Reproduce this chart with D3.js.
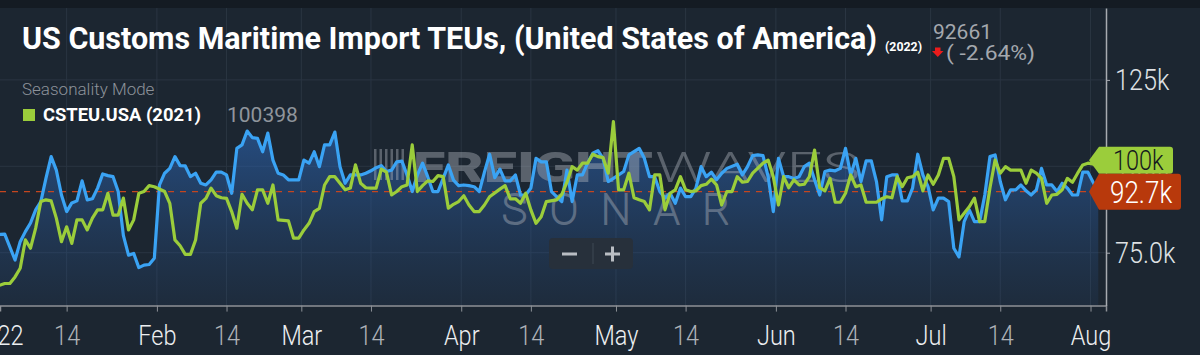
<!DOCTYPE html>
<html>
<head>
<meta charset="utf-8">
<script src="https://cdn.jsdelivr.net/npm/d3@7"></script>
<style>
  body { margin: 0; background: #1c2631; }
  svg { display: block; font-family: Roboto, "Open Sans", sans-serif; }
</style>
</head>
<body>
<div id="chart"></div>
<script>
// 2022 daily imports (days since Jan 1, TEUs)
const days2022 = [0,1,3,4,5,6,7,8,9,10,11,12,13,14,15,16,17,18,19,20,21,22,23,24,25,26,27,28,29,30,
  31,32,33,34,35,36,37,38,39,40,41,42,43,44,45,46,47,48,49,50,51,52,53,54,55,56,57,58,59,60,
  61,62,63,64,65,66,67,68,69,70,71,72,73,74,75,76,77,78,79,80,81,82,83,84,85,86,87,88,89,90,
  91,92,93,94,95,96,97,98,99,100,101,102,103,104,105,106,107,109,110,111,112,113,114,115,116,117,118,119,121,122,
  124,125,126,127,128,129,130,131,132,133,134,135,136,137,138,139,140,141,143,144,145,146,147,148,149,150,
  151,152,153,154,155,156,157,158,159,160,161,162,163,164,165,166,167,168,169,170,171,172,173,174,175,176,177,178,179,180,
  181,182,183,184,185,186,187,188,189,190,191,192,193,194,195,196,197,198,199,200,201,202,203,204,205,206,207,208,209,210,
  211,212,213];
const teu2022 = [80300,80400,72900,78200,81100,83600,87400,89800,96600,102800,98900,91700,86900,89400,90000,95800,90300,90600,93700,97800,97300,97000,92700,80000,74300,74800,70700,71400,71600,73400,
  94600,98000,99400,102800,100200,100100,97000,98000,95100,94600,96100,98300,98300,97500,92200,105200,106200,110200,108300,108100,104200,109600,101800,98000,97500,96100,96100,96100,101800,100900,
  104200,99900,106200,106200,109900,99900,95100,97500,97500,97500,98000,98700,99600,100200,98500,98900,101300,101500,97500,92700,97500,100900,97000,92700,92700,96500,100400,96000,94400,94600,
  94400,94100,92700,98300,103500,96700,99200,95800,95800,97500,91700,91700,93700,102300,101300,101300,92700,89800,98900,89800,97500,97500,100900,103800,104500,102300,95600,96500,98500,103300,
  105200,102300,97000,97000,92700,90800,92200,89300,93700,91200,91200,93700,99900,97000,98300,96100,98000,99400,100600,97500,99900,103100,103300,103100,97000,86900,
  102300,97000,97000,96500,97000,99900,100900,96100,91700,98500,98900,98700,99400,105200,97500,102300,95600,101600,101600,95600,84500,97000,97500,97500,90000,90000,93700,103500,97500,94100,
  87400,90800,90800,89800,76300,73800,84000,87400,84000,84000,91700,102800,103300,95600,90300,93200,93200,94600,92900,91700,93200,99400,94600,94600,92700,95100,93700,91700,91700,98300,
  98300,95400,92661];

// 2021 values laid over the same calendar days (seasonality mode)
const days2021 = [0,1,2,3,4,5,6,7,8,9,10,11,12,13,14,15,16,17,18,19,20,21,22,23,24,25,26,27,28,29,
  30,32,33,34,35,36,37,38,39,40,41,42,43,44,45,46,47,48,49,50,51,52,53,54,56,57,58,59,60,61,
  62,63,64,65,67,68,69,70,71,72,73,74,75,76,77,78,79,80,81,82,83,84,85,86,87,88,89,90,91,92,
  93,94,95,97,98,99,100,101,102,103,104,105,106,108,109,110,111,112,113,114,115,116,117,118,119,120,121,122,123,124,
  125,126,127,128,129,130,131,132,133,134,135,136,137,138,139,140,141,142,143,144,145,146,148,149,150,151,152,153,154,155,
  156,157,158,159,160,161,162,163,164,165,166,167,168,170,171,172,173,174,175,176,177,178,179,180,181,182,183,184,185,186,
  187,188,189,190,191,192,193,194,195,196,197,198,199,200,201,202,203,204,205,206,207,208,209,210,211,213];
const teu2021 = [65600,66100,66100,68000,70500,78700,76300,82100,89800,90300,90000,85000,78200,82500,77700,84500,84500,81600,85000,87400,87400,92200,85900,85900,90800,81600,84500,92200,92700,94400,
  94100,92700,89300,78700,77000,74500,74500,78700,89300,90700,93700,91500,90900,90700,86900,82100,91900,89300,87400,93200,93200,89300,94600,84500,84200,79200,79200,81600,83500,86900,
  87800,94600,97000,97000,93200,93700,100400,95100,93800,93700,93700,99200,98300,91700,92700,94100,94600,106200,92700,94400,95800,95600,97300,97000,87900,89000,89800,91500,88800,86900,
  86900,88800,91200,93400,94400,90600,90600,89300,92200,87400,83500,85400,89800,90300,91900,95400,99900,98900,100900,100900,103500,102800,102500,98000,112900,93200,93200,98000,90900,90300,
  89800,87400,97500,97500,87400,92200,93200,97000,93200,92700,92900,94400,94800,96300,94600,88800,92700,92700,97000,95400,95600,98000,100900,101800,97000,88800,97000,93800,96100,94600,
  94800,97000,104700,93800,92900,96500,89600,89600,92200,97500,94100,94600,89600,89600,90600,91200,90900,97000,94100,96700,97000,98300,92900,97500,94800,97500,102300,102300,97000,84500,
  86400,88300,90800,84000,84000,93700,101800,98000,99900,98900,98900,98900,95100,98900,98000,96500,89300,91700,91900,93200,96500,95400,98000,100400,100900,100398];

const monthTicks = [0, 31, 59, 90, 120, 151, 181, 212];
const monthLabels = ["2022", "Feb", "Mar", "Apr", "May", "Jun", "Jul", "Aug"];
const midMonths = [0, 1, 2, 3, 4, 5, 6];
const yTicks = [75000, 100000, 125000];
const yTickLabels = ["75.0k", "100k", "125k"];
const lastValue = "92661", lastChange = "( -2.64%)", legendValue = "100398";

const svgWidth = 1200;
const svgHeight = 355;
const margin = { top: 8, left: 0 };
const width = 1106;
const height = 297.6;
const condensed = 0.84;

const svg = d3.select("#chart").append("svg")
  .attr("width", svgWidth)
  .attr("height", svgHeight);

const defs = svg.append("defs");
const grad = defs.append("linearGradient")
  .attr("id", "areaFill").attr("x1", 0).attr("y1", 0).attr("x2", 0).attr("y2", 1);
grad.append("stop").attr("offset", "0%").attr("stop-color", "#2d6bc0").attr("stop-opacity", 0.55);
grad.append("stop").attr("offset", "100%").attr("stop-color", "#2a5590").attr("stop-opacity", 0.12);
defs.append("clipPath").attr("id", "plotClip")
  .append("rect").attr("width", width).attr("height", height);

// background + darker top strip
svg.append("rect").attr("width", svgWidth).attr("height", svgHeight).attr("fill", "#1c2631");
svg.append("rect").attr("width", svgWidth).attr("height", margin.top).attr("fill", "#141b23");

const chartGroup = svg.append("g")
  .attr("transform", `translate(${margin.left}, ${margin.top})`);

const toDate = d => new Date(2022, 0, 1 + d, 12);
const x = d3.scaleTime()
  .domain([new Date(2022, 0, 1, 14), new Date(2022, 7, 4, 0)])
  .range([0, width]);
const y = d3.scaleLinear()
  .domain([59700, 145800])
  .range([height, 0]);

const monthDates = monthTicks.map(d => new Date(2022, 0, 1 + d));
const midDates = midMonths.map(m => new Date(2022, m, 14, 12));
const allTicks = monthDates.concat(midDates).sort((a, b) => a - b);

// grid
chartGroup.append("g").selectAll("line")
  .data(allTicks).enter().append("line")
  .attr("x1", d => x(d)).attr("x2", d => x(d))
  .attr("y1", 0).attr("y2", height)
  .attr("stroke", "#2a3542").attr("stroke-width", 1);
chartGroup.append("g").selectAll("line")
  .data(yTicks).enter().append("line")
  .attr("x1", 0).attr("x2", width)
  .attr("y1", d => y(d)).attr("y2", d => y(d))
  .attr("stroke", "#2a3542").attr("stroke-width", 1);

const plot = chartGroup.append("g").attr("clip-path", "url(#plotClip)");

const data2022 = days2022.map((d, i) => ({ date: toDate(d), value: teu2022[i] }));
const data2021 = days2021.map((d, i) => ({ date: toDate(d), value: teu2021[i] }));

plot.append("path")
  .datum(data2022)
  .attr("fill", "url(#areaFill)")
  .attr("d", d3.area().x(d => x(d.date)).y0(height).y1(d => y(d.value)));

// watermark
const wm = plot.append("g").attr("opacity", 0.42);
wm.append("text")
  .attr("x", 413).attr("y", 174)
  .attr("font-size", 42).attr("font-weight", 900).attr("fill", "#b0b6be")
  .attr("textLength", 240).attr("lengthAdjust", "spacingAndGlyphs")
  .text("FREIGHT");
wm.append("text")
  .attr("x", 655).attr("y", 174)
  .attr("font-size", 42).attr("font-weight", 300).attr("fill", "#b0b6be")
  .attr("textLength", 205).attr("lengthAdjust", "spacingAndGlyphs")
  .text("WAVES");
wm.append("text")
  .attr("x", 502).attr("y", 216)
  .attr("font-size", 42).attr("font-weight", 100).attr("fill", "none")
  .attr("stroke", "#b0b6be").attr("stroke-width", 1.8)
  .attr("textLength", 228).attr("lengthAdjust", "spacing")
  .text("SONAR");
wm.selectAll("rect.bar")
  .data(d3.range(6)).enter().append("rect")
  .attr("x", i => 374 + i * 5.5).attr("y", 141).attr("width", 2.5).attr("height", 31)
  .attr("fill", "#b0b6be");

// current-value reference line
plot.append("line")
  .attr("x1", 0).attr("x2", width)
  .attr("y1", y(+lastValue)).attr("y2", y(+lastValue))
  .attr("stroke", "#c4461f").attr("stroke-width", 1.2)
  .attr("stroke-dasharray", "6,6");

const line = d3.line().x(d => x(d.date)).y(d => y(d.value));
plot.append("path")
  .datum(data2022)
  .attr("fill", "none").attr("stroke", "#3aa3f4").attr("stroke-width", 3.2)
  .attr("stroke-linejoin", "round")
  .attr("d", line);
plot.append("path")
  .datum(data2021)
  .attr("fill", "none").attr("stroke", "#9bcd3b").attr("stroke-width", 3.2)
  .attr("stroke-linejoin", "round")
  .attr("d", line);

// x axis
const bottomAxis = d3.axisBottom(x)
  .tickValues(allTicks)
  .tickSizeOuter(0)
  .tickSize(6)
  .tickFormat(d => {
    const i = monthDates.findIndex(m => +m === +d);
    return i >= 0 ? monthLabels[i] : "14";
  });
const xAxis = chartGroup.append("g")
  .attr("transform", `translate(0, ${height})`)
  .call(bottomAxis);
xAxis.select(".domain").attr("stroke", "#8d9197").attr("stroke-width", 1.5);
xAxis.selectAll(".tick line").attr("stroke", "#8d9197");
xAxis.selectAll(".tick text")
  .attr("y", 19.5)
  .attr("font-size", 28).attr("font-weight", 300)
  .attr("font-family", "Roboto, sans-serif")
  .attr("transform", `scale(${condensed},1)`)
  .attr("fill", d => monthDates.some(m => +m === +d) ? "#eceef0" : "#aeb2b8");

// y axis
const rightAxis = d3.axisRight(y)
  .tickValues(yTicks)
  .tickSize(4)
  .tickSizeOuter(0)
  .tickFormat((d, i) => yTickLabels[i]);
const yAxis = chartGroup.append("g")
  .attr("transform", `translate(${width}, 0)`)
  .call(rightAxis);
yAxis.select(".domain").attr("stroke", "#a7abb1").attr("stroke-width", 1.5);
yAxis.selectAll(".tick line").attr("stroke", "#a7abb1");
yAxis.selectAll(".tick text")
  .attr("x", 9 / condensed)
  .attr("font-size", 30).attr("font-weight", 300)
  .attr("font-family", "Roboto, sans-serif")
  .attr("transform", `scale(${condensed},1)`)
  .attr("fill", "#dfe1e4");

// last value flags
const redCy = y(+lastValue);
const redH = 36, greenH = 27;
const greenCy = Math.min(y(+legendValue), redCy - redH / 2 - greenH / 2);
const flag = (cy, h, right) => {
  const t = cy - h / 2, b = cy + h / 2;
  return `M${width - 17},${cy} L${width - 7},${t} L${right - 3},${t} Q${right},${t} ${right},${t + 3}`
    + ` L${right},${b - 3} Q${right},${b} ${right - 3},${b} L${width - 7},${b} Z`;
};
chartGroup.append("path").attr("d", flag(greenCy, greenH, width + 67)).attr("fill", "#9bcd3b");
chartGroup.append("text")
  .attr("x", (width + 7) / condensed).attr("y", greenCy + 10)
  .attr("transform", `scale(${condensed},1)`)
  .attr("font-size", 28).attr("font-weight", 300).attr("fill", "#15191e")
  .text("100k");
chartGroup.append("path").attr("d", flag(redCy, redH, width + 75)).attr("fill", "#b8390c");
chartGroup.append("text")
  .attr("x", (width + 4) / condensed).attr("y", redCy + 11)
  .attr("transform", `scale(${condensed},1)`)
  .attr("font-size", 31).attr("font-weight", 300).attr("fill", "#ffffff")
  .text(d3.format(".3s")(+lastValue));

// zoom buttons
const zoomBox = svg.append("g").attr("transform", "translate(549, 238)");
zoomBox.append("rect").attr("width", 84).attr("height", 31).attr("rx", 4).attr("fill", "#27303b");
zoomBox.append("line").attr("x1", 44).attr("x2", 44).attr("y1", 5).attr("y2", 26)
  .attr("stroke", "#3e4854");
zoomBox.append("rect").attr("x", 13).attr("y", 14.5).attr("width", 15).attr("height", 3).attr("fill", "#b9bdc3");
zoomBox.append("rect").attr("x", 56).attr("y", 14.5).attr("width", 15).attr("height", 3).attr("fill", "#b9bdc3");
zoomBox.append("rect").attr("x", 62).attr("y", 8.5).attr("width", 3).attr("height", 15).attr("fill", "#b9bdc3");

// title block
svg.append("text")
  .attr("x", 22).attr("y", 48.5)
  .attr("font-size", 32).attr("font-weight", 700).attr("fill", "#ffffff")
  .attr("textLength", 855).attr("lengthAdjust", "spacingAndGlyphs")
  .text("US Customs Maritime Import TEUs, (United States of America)");
svg.append("text")
  .attr("x", 885).attr("y", 51)
  .attr("font-size", 13).attr("font-weight", 700).attr("fill", "#ffffff")
  .attr("textLength", 37).attr("lengthAdjust", "spacingAndGlyphs")
  .text("(2022)");
svg.append("text")
  .attr("x", 933).attr("y", 38.5)
  .attr("font-size", 21).attr("font-weight", 400).attr("fill", "#a4a8ae")
  .text(lastValue);
svg.append("path")
  .attr("d", "M935,47.5 L940.5,47.5 L940.5,51 L943.5,51 L937.8,57 L932,51 L935,51 Z")
  .attr("fill", "#ec1c1c");
svg.append("text")
  .attr("x", 946).attr("y", 59.5)
  .attr("font-size", 21).attr("font-weight", 400).attr("fill", "#a4a8ae")
  .attr("textLength", 89).attr("lengthAdjust", "spacingAndGlyphs")
  .text(lastChange);

svg.append("text")
  .attr("x", 22).attr("y", 95)
  .attr("font-size", 17).attr("font-weight", 300).attr("fill", "#8c929a")
  .text("Seasonality Mode");
svg.append("rect")
  .attr("x", 23).attr("y", 109).attr("width", 12).attr("height", 12)
  .attr("fill", "#9bcd3b");
svg.append("text")
  .attr("x", 43).attr("y", 120.5)
  .attr("font-size", 18.5).attr("font-weight", 700).attr("fill", "#ffffff")
  .attr("textLength", 158).attr("lengthAdjust", "spacingAndGlyphs")
  .text("CSTEU.USA (2021)");
svg.append("text")
  .attr("x", 227).attr("y", 121.5)
  .attr("font-size", 21).attr("font-weight", 400).attr("fill", "#8f959c")
  .text(legendValue);
</script>
</body>
</html>
